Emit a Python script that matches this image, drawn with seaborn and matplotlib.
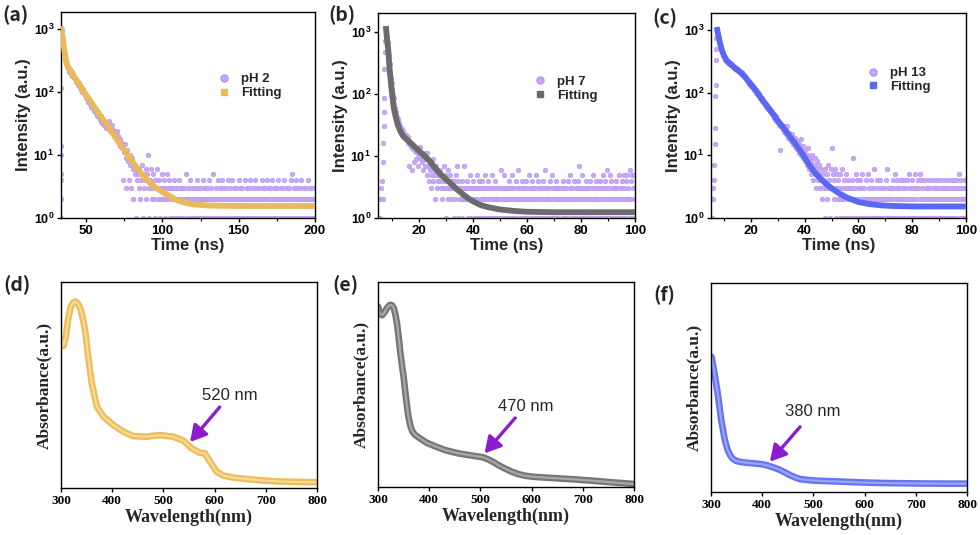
import numpy as np
import pandas as pd
import matplotlib
matplotlib.use('Agg')
import matplotlib.pyplot as plt
import seaborn as sns
from matplotlib.lines import Line2D
from matplotlib.ticker import MultipleLocator, NullLocator

# ==========================================
# DATA: TRPL decays (counts) and fits
# ==========================================
# pH 2: rising edge + channels from 34 ns every 0.5 ns
rise_t_a = [33.6, 33.7, 33.7, 33.8, 33.8, 33.9, 33.9]
rise_a = [1, 2, 4, 5, 10, 14, 115]
start_a, step_a = 34.0, 0.5
decay_a = [
    980, 760, 640, 470, 400, 330, 310, 265, 240, 250, 210, 230, 195, 205, 180, 190, 168, 160, 165, 145,
    150, 135, 128, 138, 118, 122, 108, 100, 112, 95, 88, 92, 80, 84, 76, 70, 72, 64, 66, 58,
    62, 55, 58, 50, 52, 46, 48, 42, 45, 40, 37, 41, 34, 36, 31, 35, 30, 33, 27, 29,
    30, 27, 35, 24, 28, 26, 30, 25, 20, 23, 19, 21, 24, 17, 20, 15, 18, 14, 16, 13,
    14, 4, 11, 15, 3, 9, 12, 8, 4, 10, 7, 3, 9, 6, 2, 7, 5, 1, 6, 4,
    5, 3, 6, 2, 4, 7, 1, 5, 3, 4, 6, 2, 5, 10, 3, 1, 4, 6, 2, 3,
    5, 2, 4, 1, 3, 6, 2, 3, 4, 1, 2, 5, 3, 2, 4, 1, 3, 2, 5, 3,
    2, 4, 1, 3, 2, 3, 1, 4, 2, 3, 1, 2, 3, 1, 4, 2, 3, 1, 2, 3,
    3, 1, 2, 5, 2, 1, 3, 2, 4, 1, 2, 3, 1, 2, 2, 3, 1, 2, 4, 3,
    1, 2, 3, 1, 2, 4, 2, 1, 3, 2, 1, 3, 2, 4, 1, 2, 3, 1, 2, 5,
    2, 1, 3, 2, 1, 4, 2, 3, 1, 2, 4, 1, 3, 2, 1, 2, 3, 1, 4, 2,
    3, 1, 2, 4, 1, 2, 3, 2, 1, 3, 2, 1, 4, 2, 3, 1, 2, 3, 1, 2,
    4, 1, 2, 3, 1, 2, 3, 4, 1, 2, 1, 3, 2, 4, 1, 3, 2, 1, 2, 3,
    1, 2, 4, 1, 3, 2, 1, 3, 2, 4, 1, 2, 3, 1, 2, 3, 4, 1, 2, 3,
    2, 1, 3, 2, 4, 1, 2, 3, 1, 2, 3, 1, 4, 2, 1, 3, 2, 1, 3, 2,
    4, 1, 5, 2, 3, 1, 2, 4, 1, 3, 2, 1, 3, 2, 4, 1, 2, 3, 1, 2,
    3, 1, 2, 4, 2, 1, 3, 2, 1, 2, 3, 1, 2,
]
fit_t_a = [33.6, 35, 36, 37, 38, 40, 45, 50, 55, 60, 65, 70, 75, 80, 85, 90, 95, 100,
           105, 110, 115, 120, 130, 140, 160, 180, 200]
fit_a = [1100, 650, 420, 300, 255, 210, 140, 90, 60, 40, 27, 18, 12, 8, 5.5, 4.0, 3.1, 2.6,
         2.2, 1.9, 1.75, 1.65, 1.58, 1.56, 1.55, 1.55, 1.55]

# pH 7: rising edge + channels from 7.5 ns every 0.25 ns
rise_t_b = [5.4, 5.6, 5.9, 6.2, 6.4, 6.6, 6.7, 6.8, 6.9, 7.0, 7.1, 7.2, 7.4]
rise_b = [1, 2, 3, 4, 2, 8, 16, 31, 52, 85, 250, 470, 720]
start_b, step_b = 7.5, 0.25
decay_b = [
    1050, 980, 870, 700, 560, 430, 300, 230, 180, 150, 120, 95, 85, 70, 60, 52, 48, 42, 40, 36,
    34, 28, 31, 26, 27, 24, 25, 22, 23, 21, 19, 22, 18, 20, 16, 7, 15, 17, 14, 6,
    15, 13, 8, 14, 12, 9, 13, 11, 7, 12, 10, 14, 9, 11, 8, 10, 6, 9, 11, 7,
    9, 5, 11, 7, 4, 8, 6, 3, 7, 5, 9, 4, 6, 2, 5, 7, 3, 6, 4, 5,
    4, 6, 3, 5, 2, 4, 7, 3, 5, 1, 4, 3, 6, 2, 4, 3, 5, 2, 3, 4,
    3, 1, 4, 2, 5, 3, 7, 4, 1, 3, 2, 2, 3, 4, 1, 2, 3, 7, 2, 3,
    2, 4, 1, 3, 2, 5, 1, 3, 2, 4, 3, 1, 2, 3, 1, 5, 2, 3, 4, 1,
    3, 2, 1, 4, 2, 3, 1, 2, 5, 3, 1, 2, 4, 3, 1, 2, 3, 1, 5, 2,
    1, 3, 2, 4, 1, 2, 3, 2, 2, 1, 3, 6, 2, 1, 3, 2, 5, 1, 3, 2,
    3, 1, 2, 4, 3, 2, 1, 3, 5, 2, 1, 3, 2, 4, 1, 2, 6, 3, 2, 1,
    2, 3, 1, 4, 2, 1, 3, 2, 4, 1, 3, 2, 1, 5, 2, 3, 1, 4, 2, 3,
    1, 2, 3, 5, 1, 2, 4, 3, 1, 2, 3, 1, 2, 4, 1, 3, 2, 6, 1, 3,
    2, 1, 3, 2, 4, 1, 2, 5, 3, 1, 2, 3, 1, 4, 2, 3, 1, 2, 3, 2,
    3, 1, 2, 4, 1, 3, 2, 1, 3, 2, 4, 1, 2, 3, 5, 2, 1, 3, 2, 4,
    1, 2, 3, 1, 2, 4, 3, 7, 1, 2, 3, 1, 5, 2, 3, 1, 2, 4, 1, 3,
    2, 3, 1, 4, 2, 1, 3, 2, 5, 1, 3, 2, 4, 1, 2, 3, 1, 2, 4, 3,
    1, 2, 5, 3, 1, 2, 4, 3, 1, 6, 2, 3, 1, 5, 2, 4, 1, 3, 2, 1,
    3, 2, 4, 1, 3, 2, 5, 1, 2, 3, 4, 1, 2, 5, 3, 1, 2, 4, 5, 2,
    3, 1, 6, 2, 4, 5, 1, 3, 2, 5, 2,
]
fit_t_b = [7.6, 8, 8.5, 9, 9.5, 10, 10.5, 11, 12, 13, 14, 15, 16, 18, 20, 22, 24, 26, 28,
           30, 32, 34, 36, 38, 40, 43, 46, 50, 55, 60, 70, 80, 100]
fit_b = [1250, 800, 510, 250, 150, 95, 62, 48, 32, 25, 21, 19, 17.5, 14.5, 12, 10, 8.2, 6.3, 5.0,
         4.2, 3.5, 2.9, 2.45, 2.1, 1.85, 1.6, 1.48, 1.37, 1.3, 1.26, 1.24, 1.24, 1.24]

# pH 13: rising edge + channels from 7.25 ns every 0.25 ns
rise_t_c = [5.6, 5.9, 6.1, 6.3, 6.5, 6.6, 6.7, 6.8, 6.9, 7.0, 7.05, 7.1]
rise_c = [1, 3, 2, 4, 7, 15, 27, 88, 135, 330, 500, 750]
start_c, step_c = 7.25, 0.25
decay_c = [
    1050, 950, 880, 760, 700, 600, 560, 500, 470, 430, 410, 380, 370, 340, 350, 320, 315, 300, 310, 290,
    295, 280, 275, 285, 262, 270, 250, 258, 240, 245, 235, 228, 238, 220, 226, 212, 218, 205, 214, 200,
    198, 190, 182, 176, 170, 165, 160, 150, 145, 140, 138, 130, 128, 122, 118, 115, 110, 112, 105, 100,
    102, 98, 92, 95, 86, 84, 80, 82, 75, 72, 70, 68, 64, 66, 60, 62, 57, 55, 58, 52,
    55, 50, 48, 52, 44, 46, 40, 38, 42, 35, 37, 33, 36, 31, 12, 29, 32, 28, 30, 26,
    29, 24, 27, 22, 25, 30, 21, 19, 23, 18, 20, 17, 22, 15, 18, 16, 14, 19, 13, 15,
    17, 12, 15, 11, 13, 18, 10, 12, 9, 14, 11, 8, 12, 9, 7, 10, 13, 8, 6, 9,
    8, 5, 10, 6, 4, 7, 9, 5, 3, 6, 8, 4, 5, 7, 3, 6, 4, 2, 5, 3,
    4, 1, 6, 3, 5, 2, 7, 4, 3, 1, 6, 13, 3, 5, 2, 4, 6, 1, 3, 5,
    2, 4, 3, 1, 5, 2, 3, 6, 1, 4, 2, 3, 5, 1, 3, 2, 4, 1, 3, 2,
    3, 1, 4, 9, 2, 3, 1, 5, 2, 4, 1, 3, 2, 1, 4, 3, 2, 5, 1, 2,
    3, 2, 1, 4, 2, 5, 1, 3, 2, 1, 4, 3, 1, 2, 6, 3, 1, 2, 4, 1,
    2, 3, 1, 4, 2, 1, 3, 2, 2, 1, 3, 2, 4, 1, 6, 2, 3, 1, 2, 3,
    1, 2, 4, 3, 1, 5, 2, 1, 3, 4, 2, 1, 3, 2, 4, 1, 2, 3, 1, 4,
    2, 1, 3, 4, 1, 2, 5, 3, 1, 2, 4, 1, 3, 2, 1, 5, 2, 3, 1, 4,
    3, 1, 5, 2, 4, 1, 3, 2, 1, 4, 2, 3, 1, 2, 4, 3, 1, 2, 3, 1,
    2, 4, 1, 3, 2, 1, 4, 3, 2, 1, 3, 4, 1, 2, 3, 1, 2, 4, 3, 1,
    2, 3, 1, 4, 2, 1, 3, 2, 4, 1, 3, 2, 1, 4, 3, 1, 2, 3, 4, 2,
    1, 5, 3, 2, 4, 1, 2, 3, 1, 4, 2, 3,
]
fit_t_c = [7.3, 8, 8.5, 9, 10, 11, 12, 14, 16, 18, 20, 22, 24, 26, 28, 30, 32, 34, 36, 38,
           40, 42, 44, 46, 48, 50, 53, 56, 60, 64, 68, 72, 80, 90, 100]
fit_c = [1120, 800, 630, 520, 390, 330, 300, 250, 215, 175, 138, 108, 80, 62, 47, 36, 28, 21.5,
         16.5, 12.5, 9.3, 6.8, 5.2, 4.2, 3.5, 3.0, 2.45, 2.1, 1.8, 1.67, 1.6, 1.56, 1.53, 1.53, 1.53]

# ==========================================
# DATA: UV-vis absorbance (normalised to axis height)
# ==========================================
wl_d = [302, 305, 309, 314, 319, 324, 328, 333, 338, 343, 348, 353, 360, 370, 383, 402, 422,
        441, 467, 493, 519, 539, 555, 571, 581, 591, 604, 617, 637, 669, 702, 734, 770, 798]
abs_d = [0.72, 0.69, 0.73, 0.82, 0.88, 0.90, 0.905, 0.895, 0.87, 0.82, 0.75, 0.64, 0.51, 0.395,
         0.346, 0.306, 0.273, 0.252, 0.249, 0.257, 0.249, 0.23, 0.193, 0.171, 0.168, 0.128,
         0.079, 0.06, 0.05, 0.042, 0.035, 0.031, 0.029, 0.028]

wl_e = [300, 304, 308, 313, 318, 323, 327, 331, 334, 337, 340, 343, 347, 350, 353, 356, 359,
        363, 367, 372, 382, 395, 410, 431, 457, 489, 505, 515, 525, 535, 548, 561, 574, 587,
        603, 620, 652, 685, 717, 756, 798]
abs_e = [0.88, 0.845, 0.838, 0.852, 0.875, 0.888, 0.887, 0.872, 0.84, 0.8, 0.74, 0.668, 0.59,
         0.538, 0.47, 0.408, 0.35, 0.3, 0.272, 0.255, 0.237, 0.216, 0.2, 0.18, 0.164, 0.151,
         0.145, 0.135, 0.122, 0.107, 0.09, 0.075, 0.063, 0.055, 0.05, 0.047, 0.042, 0.037,
         0.031, 0.023, 0.015]

wl_f = [301, 308, 314, 320, 327, 332, 337, 343, 350, 360, 370, 383, 396, 405, 414, 425, 435,
        445, 454, 464, 474, 490, 506, 540, 571, 604, 637, 670, 702, 750, 798]
abs_f = [0.647, 0.552, 0.456, 0.344, 0.249, 0.205, 0.177, 0.158, 0.148, 0.143, 0.14, 0.137,
         0.134, 0.13, 0.124, 0.115, 0.105, 0.093, 0.081, 0.07, 0.062, 0.057, 0.054, 0.051,
         0.048, 0.045, 0.043, 0.042, 0.041, 0.04, 0.04]

# annotations: label, text position, arrow tail, arrow head
notes = {
    'd': ('520 nm', (630, 0.447), (610, 0.393), (552, 0.223)),
    'e': ('470 nm', (588, 0.392), (568, 0.337), (508, 0.164)),
    'f': ('380 nm', (499, 0.384), (474, 0.312), (415, 0.145)),
}

PURPLE = '#c9a8f7'
PURPLE_EDGE = '#b592ee'
ARROW = '#8e1ccf'

# ==========================================
# STYLE
# ==========================================
sns.set_theme(style='ticks')
plt.rcParams['font.family'] = ['Liberation Sans', 'DejaVu Sans']
plt.rcParams['font.weight'] = 'bold'
plt.rcParams['axes.labelweight'] = 'bold'
plt.rcParams['mathtext.fontset'] = 'custom'
plt.rcParams['mathtext.bf'] = 'Liberation Sans:bold'
plt.rcParams['mathtext.rm'] = 'Liberation Sans'
plt.rcParams['axes.edgecolor'] = 'black'
plt.rcParams['axes.linewidth'] = 1.0
plt.rcParams['xtick.color'] = 'black'
plt.rcParams['ytick.color'] = 'black'

fig = plt.figure(figsize=(9.8, 5.35), dpi=100)


def px_axes(left, top, right, bottom):
    return fig.add_axes([left / 980, 1 - bottom / 535, (right - left) / 980, (bottom - top) / 535])


def plot_decay(ax, rise_t, rise_c, start, step, counts, fit_t, fit_v, color, label,
               xlim, ylim, major, minor, leg_xy):
    t = np.concatenate([rise_t, start + step * np.arange(len(counts))])
    c = np.concatenate([rise_c, counts])
    df = pd.DataFrame({'t': t, 'c': c})
    sns.scatterplot(data=df, x='t', y='c', ax=ax, s=11, color=PURPLE, edgecolor=PURPLE_EDGE,
                    linewidth=0.4, legend=False, zorder=2)
    fit = pd.DataFrame({'t': fit_t, 'v': fit_v})
    sns.lineplot(data=fit, x='t', y='v', ax=ax, color=color, linewidth=4.2, zorder=3,
                 legend=False, solid_capstyle='butt')
    ax.set_yscale('log')
    ax.set_xlim(*xlim)
    ax.set_ylim(*ylim)
    ax.set_xticks(major, labels=[str(v) for v in major], fontsize=9.5, fontweight='bold')
    ax.xaxis.set_minor_locator(MultipleLocator(minor))
    ax.set_yticks([1, 10, 100, 1000],
                  labels=[r'$\mathbf{10^{%d}}$' % k for k in range(4)], fontsize=9)
    ax.yaxis.set_minor_locator(NullLocator())
    ax.tick_params(which='major', length=3, width=1, pad=2)
    ax.tick_params(which='minor', length=2, width=0.8)
    ax.set_xlabel('Time (ns)', fontsize=12, fontweight='bold', labelpad=1)
    ax.set_ylabel('Intensity (a.u.)', fontsize=12, fontweight='bold', labelpad=2)
    handles = [Line2D([], [], ls='none', marker='o', ms=5, mfc=PURPLE, mec=PURPLE_EDGE),
               Line2D([], [], ls='none', marker='s', ms=5, mfc=color, mec=color)]
    ax.legend(handles, [label, 'Fitting'], loc='center left', bbox_to_anchor=leg_xy,
              frameon=False, prop={'family': 'Liberation Sans', 'weight': 'bold', 'size': 9.5},
              handlelength=1.0, handletextpad=0.8, labelspacing=0.12, borderpad=0,
              borderaxespad=0)


def plot_abs(ax, wl, ab, outer, inner, note):
    df = pd.DataFrame({'wl': wl, 'a': ab})
    sns.lineplot(data=df, x='wl', y='a', ax=ax, color=outer, linewidth=4.8, legend=False)
    sns.lineplot(data=df, x='wl', y='a', ax=ax, color=inner, linewidth=1.6, legend=False)
    ax.set_xlim(300, 800)
    ax.set_ylim(0, 1)
    ticks = [300, 400, 500, 600, 700, 800]
    ax.set_xticks(ticks, labels=[str(v) for v in ticks], fontfamily='Liberation Serif',
                  fontweight='bold', fontsize=9.5)
    ax.set_yticks([])
    ax.tick_params(axis='x', length=3, width=1, pad=2)
    ax.set_xlabel('Wavelength(nm)', fontfamily='Liberation Serif', fontweight='bold',
                  fontsize=13, labelpad=1)
    ax.set_ylabel('Absorbance(a.u.)', fontfamily='Liberation Serif', fontweight='bold',
                  fontsize=12.5, labelpad=6)
    text, txy, tail, head = note
    ax.text(txy[0], txy[1], text, ha='center', va='center', fontsize=12, fontweight='normal')
    ax.annotate('', xy=head, xytext=tail,
                arrowprops=dict(arrowstyle='-|>,head_length=0.8,head_width=0.45', lw=2.4,
                                color=ARROW, shrinkA=0, shrinkB=0, mutation_scale=12))


ax_a = px_axes(61, 12, 315, 218)
ax_b = px_axes(378, 13, 635, 218)
ax_c = px_axes(711, 13, 966, 218)
ax_d = px_axes(61, 282, 317, 488)
ax_e = px_axes(378, 282, 634, 487)
ax_f = px_axes(711, 283, 967, 492)

plot_decay(ax_a, rise_t_a, rise_a, start_a, step_a, decay_a, fit_t_a, fit_a, '#e9b95a', 'pH 2',
           (33.6, 200), (1, 1860), [50, 100, 150, 200], 25, (0.617, 0.64))
plot_decay(ax_b, rise_t_b, rise_b, start_b, step_b, decay_b, fit_t_b, fit_b, '#6b6b6b', 'pH 7',
           (4.7, 100), (1, 2025), [20, 40, 60, 80, 100], 10, (0.606, 0.63))
plot_decay(ax_c, rise_t_c, rise_c, start_c, step_c, decay_c, fit_t_c, fit_c, '#5868f0', 'pH 13',
           (5.2, 100), (1, 1880), [20, 40, 60, 80, 100], 10, (0.609, 0.673))

plot_abs(ax_d, wl_d, abs_d, '#ecbd5a', '#f7da94', notes['d'])
plot_abs(ax_e, wl_e, abs_e, '#767676', '#a8a8a8', notes['e'])
plot_abs(ax_f, wl_f, abs_f, '#6474f2', '#9aa5f8', notes['f'])

# panel letters
for letter, x, y in [('(a)', 2, 15), ('(b)', 328, 15), ('(c)', 652, 18),
                     ('(d)', 3, 285), ('(e)', 332, 285), ('(f)', 653, 295)]:
    fig.text(x / 980, 1 - y / 535, letter, ha='left', va='center', fontsize=14,
             fontweight='bold', family=['Noto Sans CJK SC', 'DejaVu Sans'])

fig.savefig('out.png', dpi=100)
